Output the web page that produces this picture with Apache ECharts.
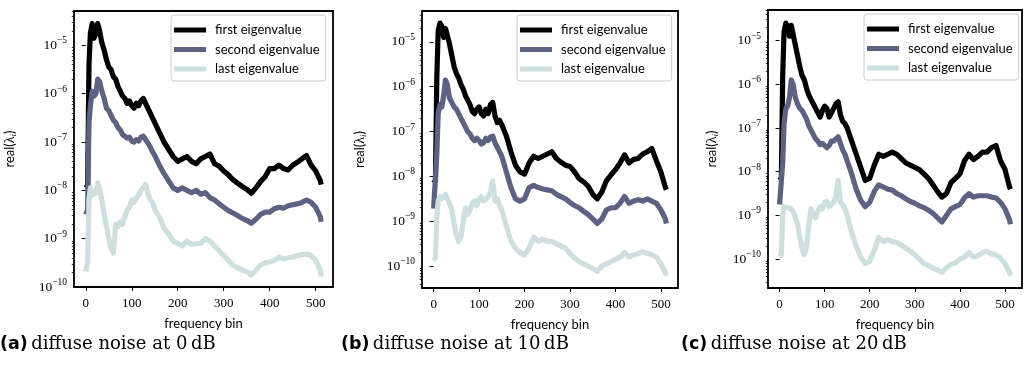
<!DOCTYPE html>
<html>
<head>
<meta charset="utf-8">
<script src="https://cdn.jsdelivr.net/npm/echarts@6/dist/echarts.min.js"></script>
<style>
  html, body { margin: 0; padding: 0; background: #fff; }
  #chart { width: 1024px; height: 379px; }
</style>
</head>
<body>
<div id="chart"></div>
<script>
// frequency bins where the curves were read
const bins = [0, 4, 7, 10, 14, 18, 22, 26, 30, 35, 40, 45, 50, 55, 60, 65, 70, 75, 80, 85, 90, 95, 100, 105, 110, 115, 120, 125, 130, 135, 140, 145, 150,
  160, 170, 180, 190, 200, 210, 220, 230, 240, 250, 260, 270, 280, 290, 300, 310, 320, 330, 340, 350, 360, 370, 380, 390, 400, 410, 420, 430, 440, 450, 460, 470, 480, 490, 500, 510, 512];

// log10 of real(lambda_i)
// (a) 0 dB
const firstA = [-7.95, -7.9, -5.4, -4.75, -4.55, -4.85, -4.75, -4.55, -4.7, -4.95, -5.1, -5.3, -5.45, -5.5, -5.65, -5.7, -5.85, -5.95, -6.05, -6.1, -6.2, -6.15, -6.25, -6.3, -6.2, -6.25, -6.15, -6.1, -6.2, -6.3, -6.4, -6.5, -6.6,
  -6.8, -7.0, -7.15, -7.3, -7.4, -7.35, -7.3, -7.4, -7.45, -7.35, -7.3, -7.25, -7.45, -7.5, -7.6, -7.68, -7.78, -7.85, -7.92, -7.98, -8.06, -7.95, -7.82, -7.72, -7.55, -7.55, -7.48, -7.55, -7.58, -7.48, -7.42, -7.35, -7.28, -7.48, -7.6, -7.8, -7.88];
const secondA = [-8.5, -8.4, -6.6, -6.25, -5.95, -6.05, -6.0, -5.7, -5.75, -5.95, -6.1, -6.3, -6.35, -6.45, -6.55, -6.6, -6.7, -6.75, -6.85, -6.88, -6.92, -6.9, -6.98, -7.0, -6.95, -6.98, -6.9, -6.88, -6.95, -7.02, -7.1, -7.2, -7.28,
  -7.48, -7.65, -7.8, -7.95, -8.0, -7.95, -8.0, -8.05, -8.0, -8.08, -8.05, -8.15, -8.2, -8.28, -8.35, -8.42, -8.47, -8.52, -8.58, -8.62, -8.68, -8.6, -8.5, -8.45, -8.45, -8.38, -8.35, -8.37, -8.32, -8.3, -8.28, -8.25, -8.2, -8.25, -8.35, -8.55, -8.65];
const lastA = [-9.68, -9.5, -8.2, -7.95, -8.1, -8.12, -8.05, -7.85, -7.95, -8.2, -8.5, -8.75, -9.0, -9.2, -9.3, -8.7, -8.75, -8.65, -8.7, -8.55, -8.4, -8.35, -8.2, -8.25, -8.15, -8.1, -8.0, -7.95, -7.88, -8.05, -8.2, -8.25, -8.4,
  -8.55, -8.78, -8.9, -9.05, -9.1, -9.15, -9.05, -9.12, -9.1, -9.1, -9.0, -9.05, -9.15, -9.25, -9.35, -9.45, -9.55, -9.6, -9.65, -9.68, -9.75, -9.65, -9.55, -9.5, -9.48, -9.45, -9.38, -9.42, -9.4, -9.38, -9.35, -9.33, -9.32, -9.35, -9.45, -9.65, -9.78];
// (b) 10 dB
const firstB = [-8.15, -8.1, -5.8, -4.75, -4.58, -4.65, -4.9, -4.7, -4.85, -5.05, -5.3, -5.55, -5.7, -5.8, -5.95, -6.05, -6.2, -6.3, -6.4, -6.55, -6.6, -6.5, -6.45, -6.6, -6.65, -6.5, -6.6, -6.4, -6.35, -6.65, -6.8, -6.75, -6.85,
  -7.1, -7.45, -7.75, -7.9, -7.95, -7.7, -7.55, -7.6, -7.55, -7.5, -7.45, -7.6, -7.68, -7.75, -7.78, -7.9, -8.05, -8.12, -8.22, -8.4, -8.5, -8.35, -8.1, -7.97, -7.85, -7.7, -7.52, -7.7, -7.62, -7.6, -7.5, -7.45, -7.38, -7.65, -7.9, -8.25, -8.3];
const secondB = [-8.72, -8.7, -7.5, -6.6, -6.4, -6.45, -6.2, -5.85, -5.95, -6.25, -6.35, -6.45, -6.5, -6.6, -6.7, -6.8, -6.9, -7.0, -7.05, -7.15, -7.2, -7.15, -7.2, -7.28, -7.25, -7.15, -7.2, -7.12, -7.1, -7.25, -7.35, -7.45, -7.55,
  -7.9, -8.25, -8.5, -8.55, -8.5, -8.25, -8.2, -8.25, -8.28, -8.3, -8.32, -8.4, -8.45, -8.5, -8.58, -8.65, -8.7, -8.78, -8.85, -8.95, -9.05, -8.95, -8.75, -8.7, -8.7, -8.6, -8.45, -8.6, -8.55, -8.52, -8.55, -8.5, -8.55, -8.6, -8.75, -8.95, -9.05];
const lastB = [-9.88, -9.8, -8.9, -8.55, -8.45, -8.5, -8.45, -8.4, -8.5, -8.6, -8.75, -9.05, -9.3, -9.45, -9.35, -9.0, -8.7, -8.85, -8.75, -8.6, -8.55, -8.65, -8.5, -8.45, -8.55, -8.5, -8.45, -8.35, -8.1, -8.55, -8.5, -8.65, -8.75,
  -9.1, -9.45, -9.6, -9.7, -9.75, -9.6, -9.35, -9.45, -9.4, -9.45, -9.45, -9.5, -9.55, -9.6, -9.72, -9.82, -9.9, -9.95, -10.0, -10.05, -10.12, -10.0, -9.95, -9.9, -9.85, -9.8, -9.7, -9.8, -9.75, -9.72, -9.68, -9.72, -9.75, -9.8, -9.95, -10.15, -10.22];
// (c) 20 dB
const firstC = [-8.2, -8.15, -5.8, -4.8, -4.6, -4.68, -4.9, -4.65, -4.85, -5.1, -5.35, -5.6, -5.8, -5.9, -6.1, -6.25, -6.35, -6.45, -6.55, -6.65, -6.75, -6.6, -6.5, -6.55, -6.75, -6.65, -6.55, -6.45, -6.4, -6.7, -6.85, -6.9, -7.0,
  -7.3, -7.6, -7.9, -8.2, -8.15, -7.85, -7.6, -7.65, -7.6, -7.55, -7.6, -7.7, -7.8, -7.85, -7.9, -7.95, -8.05, -8.15, -8.3, -8.45, -8.58, -8.5, -8.25, -8.15, -8.05, -7.75, -7.6, -7.72, -7.65, -7.55, -7.55, -7.45, -7.4, -7.75, -7.95, -8.35, -8.4];
const secondC = [-8.75, -8.72, -7.8, -6.9, -6.55, -6.5, -6.3, -5.9, -6.0, -6.3, -6.45, -6.55, -6.6, -6.7, -6.8, -6.95, -7.05, -7.15, -7.25, -7.3, -7.38, -7.35, -7.4, -7.45, -7.4, -7.3, -7.3, -7.25, -7.2, -7.35, -7.5, -7.6, -7.75,
  -8.05, -8.4, -8.65, -8.8, -8.7, -8.45, -8.3, -8.35, -8.4, -8.42, -8.5, -8.55, -8.62, -8.68, -8.72, -8.78, -8.82, -8.88, -8.95, -9.05, -9.15, -9.0, -8.85, -8.8, -8.75, -8.6, -8.5, -8.58, -8.55, -8.55, -8.55, -8.58, -8.6, -8.7, -8.85, -9.1, -9.2];
const lastC = [-9.95, -9.9, -9.0, -8.8, -8.78, -8.82, -8.8, -8.85, -8.9, -9.05, -9.2, -9.5, -9.75, -9.9, -9.7, -9.2, -8.85, -9.0, -9.05, -8.9, -8.8, -8.85, -8.7, -8.68, -8.8, -8.75, -8.7, -8.55, -8.2, -8.7, -8.75, -8.85, -9.0,
  -9.4, -9.7, -9.95, -10.1, -10.05, -9.8, -9.5, -9.6, -9.55, -9.6, -9.62, -9.68, -9.75, -9.82, -9.9, -10.0, -10.1, -10.15, -10.2, -10.25, -10.3, -10.2, -10.12, -10.08, -10.0, -9.95, -9.85, -9.95, -9.92, -9.85, -9.82, -9.88, -9.9, -9.98, -10.1, -10.3, -10.38];

const seriesNames = ['first eigenvalue', 'second eigenvalue', 'last eigenvalue'];
const seriesColors = ['#000000', '#5d6282', '#cde0df'];
const panels = [[firstA, secondA, lastA], [firstB, secondB, lastB], [firstC, secondC, lastC]];
const captions = [['(a)', 'diffuse noise at 0\u2009dB'], ['(b)', 'diffuse noise at 10\u2009dB'], ['(c)', 'diffuse noise at 20\u2009dB']];

const xTicks = [0, 100, 200, 300, 400, 500];
const yTicks = [1e-10, 1e-9, 1e-8, 1e-7, 1e-6, 1e-5];
const yMinorSteps = [2, 3, 4, 5, 6, 7, 8, 9];
const yMinorTicks = [];
[1e-11, 1e-10, 1e-9, 1e-8, 1e-7, 1e-6, 1e-5].forEach(d => yMinorSteps.forEach(m => yMinorTicks.push(m * d)));

// layout of the three panels (pixels) and their log10 y extents
const grids = [
  { left: 74, top: 11, width: 259, height: 276 },
  { left: 422, top: 11, width: 256, height: 277 },
  { left: 768, top: 10, width: 254, height: 278 }
];
const yExtent = [[-10.0, -4.29], [-10.49, -4.31], [-10.66, -4.3]];
const yTitleX = [10, 360, 712];
const legendPos = [{ left: 171, top: 15 }, { left: 517, top: 15 }, { left: 864, top: 14 }];
const captionLeft = [0, 341, 681];

const serif = 'Liberation Serif';
const sans = 'Lato';

const chart = echarts.init(document.getElementById('chart'), null, { renderer: 'canvas' });

const yTitles = grids.map((g, i) => ({
  type: 'text',
  x: yTitleX[i],
  y: g.top + g.height / 2,
  rotation: Math.PI / 2,
  style: {
    text: '{t|real(}{g|\u03bb}{i|i}{t|)}',
    align: 'center',
    verticalAlign: 'middle',
    rich: {
      t: { fontFamily: sans, fontSize: 13, fill: '#000' },
      g: { fontFamily: serif, fontSize: 14, fill: '#000' },
      i: { fontFamily: serif, fontStyle: 'italic', fontSize: 9, fill: '#000', padding: [7, 0, 0, 0] }
    }
  }
}));

const captionTexts = captions.map((c, i) => ({
  type: 'text',
  left: captionLeft[i],
  top: 335,
  style: {
    text: '{b|' + c[0] + '} {r|' + c[1] + '}',
    rich: {
      b: { fontFamily: 'DejaVu Sans', fontWeight: 'bold', fontSize: 17.5, fill: '#000' },
      r: { fontFamily: 'DejaVu Serif', fontSize: 18, fill: '#000' }
    }
  }
}));

const option = {
  animation: false,
  backgroundColor: '#fff',
  grid: grids.map(g => Object.assign({ show: true, borderColor: '#000', borderWidth: 1.8, backgroundColor: 'transparent' }, g)),
  xAxis: grids.map((g, i) => ({
    type: 'value',
    gridIndex: i,
    min: -25.6,
    max: 537.6,
    axisLine: { show: false },
    splitLine: { show: false },
    axisTick: { show: true, inside: false, length: 4, lineStyle: { color: '#000', width: 1 }, customValues: xTicks },
    axisLabel: { customValues: xTicks, margin: 10, fontFamily: serif, fontSize: 13, color: '#000' },
    name: 'frequency bin',
    nameLocation: 'middle',
    nameGap: 30,
    nameTextStyle: { fontFamily: sans, fontSize: 13, color: '#000' }
  })),
  yAxis: [].concat(...grids.map((g, i) => [
    {
      type: 'log',
      gridIndex: i,
      position: 'left',
      min: Math.pow(10, yExtent[i][0]),
      max: Math.pow(10, yExtent[i][1]),
      axisLine: { show: false },
      splitLine: { show: false },
      axisTick: { show: true, inside: false, length: 4, lineStyle: { color: '#000', width: 1 }, customValues: yTicks },
      axisLabel: {
        customValues: yTicks,
        margin: 7,
        formatter: v => '{b|10}{s|\u2212' + Math.round(-Math.log10(v)) + '}',
        rich: {
          b: { fontFamily: serif, fontSize: 13.5, color: '#000' },
          s: { fontFamily: serif, fontSize: 9.5, color: '#000', padding: [0, 0, 9, 0] }
        }
      }
    },
    {
      type: 'log',
      gridIndex: i,
      position: 'left',
      offset: 0,
      min: Math.pow(10, yExtent[i][0]),
      max: Math.pow(10, yExtent[i][1]),
      axisLine: { show: false },
      splitLine: { show: false },
      axisLabel: { show: false },
      axisTick: { show: true, inside: false, length: 2.2, lineStyle: { color: '#000', width: 0.8 }, customValues: yMinorTicks }
    }
  ])),
  legend: legendPos.map(p => ({
    data: seriesNames,
    left: p.left,
    top: p.top,
    orient: 'vertical',
    icon: 'rect',
    itemWidth: 32,
    itemHeight: 5,
    itemGap: 5.5,
    padding: [8, 6, 5, 3],
    backgroundColor: 'rgba(255,255,255,0.8)',
    borderColor: '#cccccc',
    borderWidth: 1,
    borderRadius: 3,
    selectedMode: false,
    textStyle: { fontFamily: sans, fontSize: 13, color: '#000', lineHeight: 14, padding: [0, 0, 0, 4] }
  })),
  series: [].concat(...panels.map((set, i) => set.map((vals, k) => ({
    name: seriesNames[k],
    type: 'line',
    xAxisIndex: i,
    yAxisIndex: 2 * i,
    data: bins.map((b, j) => [b, Math.pow(10, vals[j])]),
    showSymbol: false,
    symbol: 'none',
    color: seriesColors[k],
    lineStyle: { color: seriesColors[k], width: 5.2, join: 'round' },
    emphasis: { disabled: true }
  })))),
  graphic: yTitles.concat(captionTexts)
};

chart.setOption(option);
</script>
</body>
</html>
